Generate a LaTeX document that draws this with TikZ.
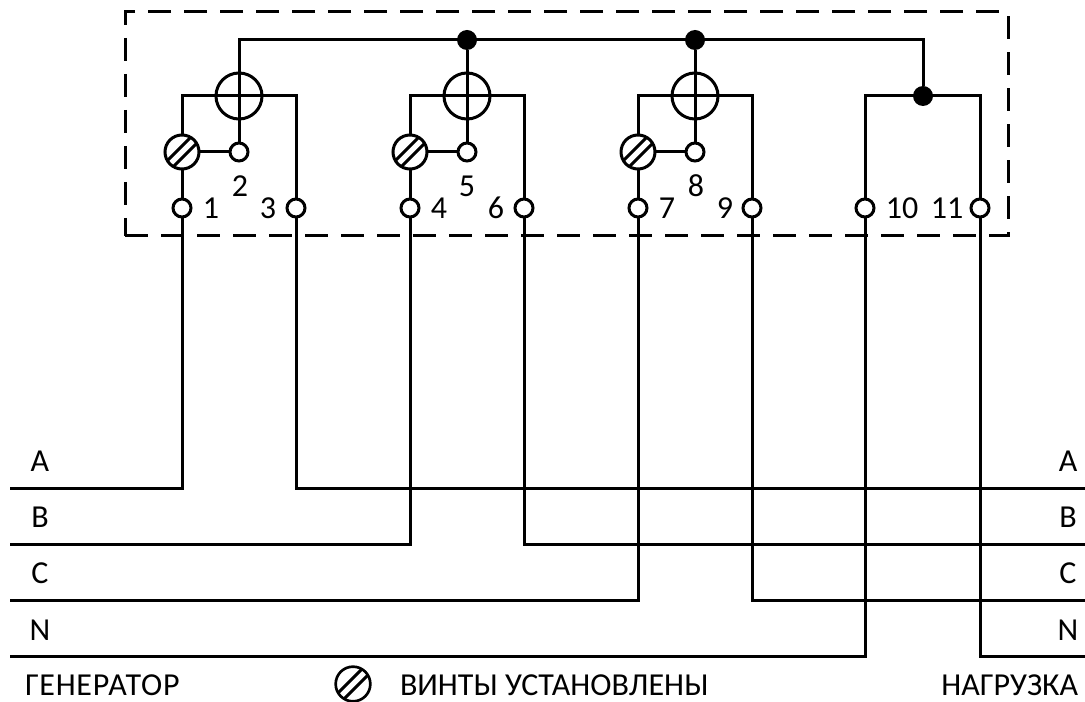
\documentclass[tikz,border=0pt]{standalone}
\usepackage{fontspec}
\setmainfont{Carlito}
\begin{document}
\begin{tikzpicture}[x=0.75pt,y=-0.75pt,
  wire/.style={line width=2.25pt,line join=miter},
  frame/.style={line width=2.25pt,dash pattern=on 17.6pt off 9.4pt},
  terminal/.style={circle,draw,fill=white,line width=2.25pt,inner sep=0pt,outer sep=0pt,minimum size=13.5pt},
  meter/.style={circle,draw,line width=2.25pt,inner sep=0pt,outer sep=0pt,minimum size=34.5pt},
  hatch/.style={path picture={
    \draw[line width=2.25pt,shift={(path picture bounding box.center)}] (-11,17) -- (17,-11) (-17,11) -- (11,-17);}},
  screw/.style={circle,draw,fill=white,hatch,line width=2.25pt,inner sep=0pt,outer sep=0pt,minimum size=25.5pt},
  legendscrew/.style={circle,draw,hatch,line width=2pt,inner sep=0pt,outer sep=0pt,minimum size=26pt},
  joint/.style={circle,fill=black,inner sep=0pt,outer sep=0pt,minimum size=15pt},
  label/.style={inner sep=0pt,outer sep=0pt,font=\fontsize{24}{28}\selectfont}
]
\useasboundingbox (0,0) rectangle (1085,702);
% frame
\coordinate (fa) at (125,236);
\coordinate (fb) at (1008,236);
\coordinate (fc) at (1008,12);
\coordinate (fd) at (125,12);
\draw[frame] (fa) -- (fb) -- (fc) -- (fd) -- cycle;
% bus corners
\coordinate (top0) at (239,40);
\coordinate (top3) at (923,40);
\coordinate (a1) at (182,96);
\coordinate (a3) at (296,96);
\coordinate (b1) at (410,96);
\coordinate (b3) at (524,96);
\coordinate (c1) at (638,96);
\coordinate (c3) at (752,96);
\coordinate (n1) at (865,96);
\coordinate (n3) at (980,96);
% line ends
\coordinate (La) at (10,488);
\coordinate (Lb) at (10,544);
\coordinate (Lc) at (10,600);
\coordinate (Ln) at (10,656);
\coordinate (Ra) at (1085,488);
\coordinate (Rb) at (1085,544);
\coordinate (Rc) at (1085,600);
\coordinate (Rn) at (1085,656);
% meters, screws, terminals
\node[meter] (m1) at (239,96) {};
\node[meter] (m2) at (467,96) {};
\node[meter] (m3) at (695,96) {};
\node[joint] (j1) at (467,40) {};
\node[joint] (j2) at (695,40) {};
\node[joint] (j3) at (923,96) {};
\node[terminal] (t1) at (182,208) {};
\node[terminal] (t2) at (239,152) {};
\node[terminal] (t3) at (296,208) {};
\node[terminal] (t4) at (410,208) {};
\node[terminal] (t5) at (467,152) {};
\node[terminal] (t6) at (524,208) {};
\node[terminal] (t7) at (638,208) {};
\node[terminal] (t8) at (695,152) {};
\node[terminal] (t9) at (752,208) {};
\node[terminal] (t10) at (865,208) {};
\node[terminal] (t11) at (980,208) {};
\node[screw] (s1) at (182,152) {};
\node[screw] (s2) at (410,152) {};
\node[screw] (s3) at (638,152) {};
% wiring
\draw[wire] (t2) -- (top0) -- (top3) -- (j3);
\draw[wire] (j1) -- (t5);
\draw[wire] (j2) -- (t8);
\draw[wire] (s1) -- (a1) -- (a3) -- (t3);
\draw[wire] (s2) -- (b1) -- (b3) -- (t6);
\draw[wire] (s3) -- (c1) -- (c3) -- (t9);
\draw[wire] (t10) -- (n1) -- (n3) -- (t11);
\draw[wire] (s1) -- (t2);
\draw[wire] (s2) -- (t5);
\draw[wire] (s3) -- (t8);
\draw[wire] (s1) -- (t1);
\draw[wire] (s2) -- (t4);
\draw[wire] (s3) -- (t7);
\draw[wire] (t1) |- (La);
\draw[wire] (t3) |- (Ra);
\draw[wire] (t4) |- (Lb);
\draw[wire] (t6) |- (Rb);
\draw[wire] (t7) |- (Lc);
\draw[wire] (t9) |- (Rc);
\draw[wire] (t10) |- (Ln);
\draw[wire] (t11) |- (Rn);
% numbers
\node[label] (n-1) at (211,208) {1};
\node[label] (n-2) at (240,186) {2};
\node[label] (n-3) at (268,208) {3};
\node[label] (n-4) at (439,208) {4};
\node[label] (n-5) at (467,186) {5};
\node[label] (n-6) at (496,208) {6};
\node[label] (n-7) at (667,208) {7};
\node[label] (n-8) at (696,186) {8};
\node[label] (n-9) at (725,208) {9};
\node[label] (n-10) at (902,208) {10};
\node[label] (n-11) at (947,208) {11};
% phase labels
\node[label] (pa) at (40,461) {A};
\node[label] (pb) at (40,517) {B};
\node[label] (pc) at (40,573) {C};
\node[label] (pn) at (40,630) {N};
\node[label] (qa) at (1068,461) {A};
\node[label] (qb) at (1068,517) {B};
\node[label] (qc) at (1068,573) {C};
\node[label] (qn) at (1068,630) {N};
% legend
\node[label,anchor=west] (gen) at (25,685) {\addfontfeature{LetterSpace=2.3}ГЕНЕРАТОР};
\node[legendscrew] (leg) at (353,684) {};
\node[label,anchor=west] (vin) at (400,685) {ВИНТЫ УСТАНОВЛЕНЫ};
\node[label,anchor=east] (nag) at (1078,685) {НАГРУЗКА};
\end{tikzpicture}
\end{document}
